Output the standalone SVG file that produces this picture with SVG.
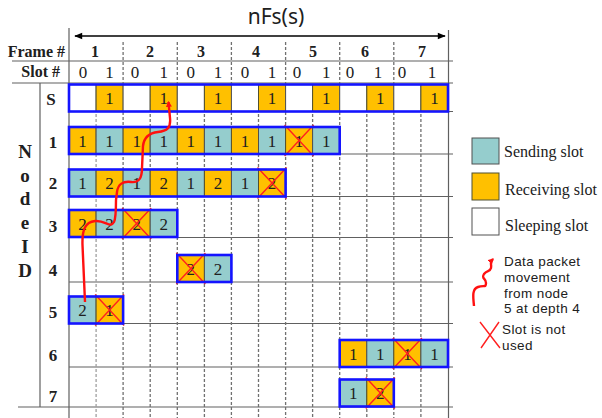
<svg xmlns="http://www.w3.org/2000/svg" width="602" height="418" viewBox="0 0 602 418">
<style>
.bg{fill:#ffffff}
.gl{stroke:#606060;stroke-width:1.2;fill:none}
.gd{stroke:#707070;stroke-width:1.3;stroke-dasharray:3 2;fill:none}
.w{fill:#ffffff;stroke:#505050;stroke-width:1}
.y{fill:#FFC000;stroke:#505030;stroke-width:1}
.t{fill:#95CDCD;stroke:#505050;stroke-width:1}
.box{fill:none;stroke:#1414FF;stroke-width:2.6}
.x{stroke:#FF2020;stroke-width:1.4;fill:none}
.ct{font-family:"Liberation Serif",serif;font-size:17px;fill:#202020;text-anchor:middle}
.hb{font-family:"Liberation Serif",serif;font-size:16px;font-weight:bold;fill:#202020;text-anchor:middle}
.he{font-family:"Liberation Serif",serif;font-size:16px;font-weight:bold;fill:#202020;text-anchor:end}
.hn{font-family:"Liberation Serif",serif;font-size:17px;fill:#202020;text-anchor:middle}
.lb{font-family:"Liberation Serif",serif;font-size:17px;font-weight:bold;fill:#202020;text-anchor:middle}
.nid{font-family:"Liberation Serif",serif;font-size:19px;font-weight:bold;fill:#202020;text-anchor:middle}
.lg{font-family:"Liberation Serif",serif;font-size:16px;fill:#202020}
.ls{font-family:"Liberation Sans","Noto Sans",sans-serif;font-size:13.5px;letter-spacing:0.4px;fill:#202020}
.rp{stroke:#FF1010;stroke-width:2.4;fill:none}
</style>
<defs>
<marker id="ah" viewBox="0 0 10 10" refX="8" refY="5" markerWidth="6" markerHeight="6" orient="auto" markerUnits="userSpaceOnUse">
<path d="M0,0 L10,5 L0,10 z" fill="#FF1010"/>
</marker>
<marker id="ab" viewBox="0 0 10 10" refX="9" refY="5" markerWidth="11" markerHeight="8" orient="auto-start-reverse" markerUnits="userSpaceOnUse">
<path d="M0,1 L10,5 L0,9 z" fill="#000000"/>
</marker>
</defs>
<rect class="bg" x="0" y="0" width="602" height="418"/>

<g id="title">
<text x="276" y="24" font-family="Noto Sans,Noto Sans CJK KR,sans-serif" font-size="21" fill="#202020" text-anchor="middle">nFs(s)</text>
<line x1="75" y1="36" x2="445" y2="36" stroke="#000" stroke-width="1.6" marker-start="url(#ab)" marker-end="url(#ab)"/>
</g>

<g id="grid">
<line class="gl" x1="69" y1="28" x2="69" y2="418"/>
<line class="gl" x1="448.5" y1="30" x2="448.5" y2="418" stroke="#909090"/>
<line class="gl" x1="40" y1="83" x2="40" y2="407"/>
<line class="gl" x1="12" y1="61" x2="453" y2="61"/>
<line class="gl" x1="12" y1="83" x2="453" y2="83"/>
<line class="gl" x1="69" y1="111.5" x2="453" y2="111.5"/>
<line class="gl" x1="69" y1="154" x2="453" y2="154"/>
<line class="gl" x1="69" y1="196.5" x2="453" y2="196.5"/>
<line class="gl" x1="69" y1="237.5" x2="453" y2="237.5"/>
<line class="gl" x1="69" y1="282" x2="453" y2="282"/>
<line class="gl" x1="69" y1="323.5" x2="453" y2="323.5"/>
<line class="gl" x1="69" y1="367" x2="453" y2="367"/>
<line class="gl" x1="18" y1="407" x2="453" y2="407"/>
<g>
<line class="gd" x1="123.1" y1="42" x2="123.1" y2="418"/>
<line class="gd" x1="177.3" y1="42" x2="177.3" y2="418"/>
<line class="gd" x1="231.4" y1="42" x2="231.4" y2="418"/>
<line class="gd" x1="285.6" y1="42" x2="285.6" y2="418"/>
<line class="gd" x1="339.7" y1="42" x2="339.7" y2="418"/>
<line class="gd" x1="393.8" y1="42" x2="393.8" y2="418"/>
<line class="gd" x1="96.1" y1="84" x2="96.1" y2="418" style="stroke:#a0a0a0"/>
<line class="gd" x1="150.2" y1="84" x2="150.2" y2="418"/>
<line class="gd" x1="204.4" y1="84" x2="204.4" y2="418"/>
<line class="gd" x1="258.5" y1="84" x2="258.5" y2="418"/>
<line class="gd" x1="312.6" y1="84" x2="312.6" y2="418"/>
<line class="gd" x1="366.8" y1="84" x2="366.8" y2="418"/>
<line class="gd" x1="420.9" y1="84" x2="420.9" y2="418"/>
</g>
</g>

<g id="header">
<text class="he" x="65" y="57">Frame #</text>
<text class="he" x="60" y="77">Slot #</text>
<text class="hb" x="95" y="57">1</text>
<text class="hb" x="150" y="57">2</text>
<text class="hb" x="201" y="57">3</text>
<text class="hb" x="256" y="57">4</text>
<text class="hb" x="313" y="57">5</text>
<text class="hb" x="365" y="57">6</text>
<text class="hb" x="422" y="57">7</text>
<text class="hn" x="83" y="78">0</text><text class="hn" x="109.6" y="78">1</text>
<text class="hn" x="135" y="78">0</text><text class="hn" x="163.7" y="78">1</text>
<text class="hn" x="190.8" y="78">0</text><text class="hn" x="217.9" y="78">1</text>
<text class="hn" x="245" y="78">0</text><text class="hn" x="272" y="78">1</text>
<text class="hn" x="297" y="78">0</text><text class="hn" x="326.2" y="78">1</text>
<text class="hn" x="350" y="78">0</text><text class="hn" x="378" y="78">1</text>
<text class="hn" x="402" y="78">0</text><text class="hn" x="432" y="78">1</text>
</g>

<g id="node-id-label">
<text class="nid" x="25" y="158">N</text>
<text class="nid" x="25" y="182">o</text>
<text class="nid" x="25" y="205">d</text>
<text class="nid" x="25" y="229">e</text>
<text class="nid" x="25" y="253">I</text>
<text class="nid" x="25" y="277">D</text>
</g>

<g id="row-S">
<text class="lb" x="51" y="105">S</text>
<rect class="w" x="69" y="84.5" width="27.1" height="27"/>
<rect class="y" x="96.1" y="84.5" width="27.1" height="27"/>
<rect class="w" x="123.1" y="84.5" width="27.1" height="27"/>
<rect class="y" x="150.2" y="84.5" width="27.1" height="27"/>
<rect class="w" x="177.3" y="84.5" width="27.1" height="27"/>
<rect class="y" x="204.4" y="84.5" width="27.1" height="27"/>
<rect class="w" x="231.4" y="84.5" width="27.1" height="27"/>
<rect class="y" x="258.5" y="84.5" width="27.1" height="27"/>
<rect class="w" x="285.6" y="84.5" width="27.1" height="27"/>
<rect class="y" x="312.6" y="84.5" width="27.1" height="27"/>
<rect class="w" x="339.7" y="84.5" width="27.1" height="27"/>
<rect class="y" x="366.8" y="84.5" width="27.1" height="27"/>
<rect class="w" x="393.8" y="84.5" width="27.1" height="27"/>
<rect class="y" x="420.9" y="84.5" width="27.1" height="27"/>
<text class="ct" x="109.6" y="104">1</text>
<text class="ct" x="163.7" y="104">1</text>
<text class="ct" x="217.9" y="104">1</text>
<text class="ct" x="272" y="104">1</text>
<text class="ct" x="326.2" y="104">1</text>
<text class="ct" x="380.3" y="104">1</text>
<text class="ct" x="434.4" y="104">1</text>
<rect class="box" x="69" y="84.5" width="379" height="27"/>
</g>

<g id="row-1">
<text class="lb" x="53" y="148">1</text>
<rect class="y" x="69" y="127" width="27.1" height="27"/>
<rect class="t" x="96.1" y="127" width="27.1" height="27"/>
<rect class="y" x="123.1" y="127" width="27.1" height="27"/>
<rect class="t" x="150.2" y="127" width="27.1" height="27"/>
<rect class="y" x="177.3" y="127" width="27.1" height="27"/>
<rect class="t" x="204.4" y="127" width="27.1" height="27"/>
<rect class="y" x="231.4" y="127" width="27.1" height="27"/>
<rect class="t" x="258.5" y="127" width="27.1" height="27"/>
<rect class="y" x="285.6" y="127" width="27.1" height="27"/>
<rect class="t" x="312.6" y="127" width="27.1" height="27"/>
<text class="ct" x="82.5" y="146.5">1</text>
<text class="ct" x="109.6" y="146.5">1</text>
<text class="ct" x="136.7" y="146.5">1</text>
<text class="ct" x="163.7" y="146.5">1</text>
<text class="ct" x="190.8" y="146.5">1</text>
<text class="ct" x="217.9" y="146.5">1</text>
<text class="ct" x="245" y="146.5">1</text>
<text class="ct" x="272" y="146.5">1</text>
<text class="ct" x="299.1" y="146.5">1</text>
<text class="ct" x="326.2" y="146.5">1</text>
<path class="x" d="M284.6,125 L313.6,156 M313.6,125 L284.6,156"/>
<rect class="box" x="69" y="127" width="270.7" height="27"/>
</g>

<g id="row-2">
<text class="lb" x="53" y="189">2</text>
<rect class="t" x="69" y="169.5" width="27.1" height="27"/>
<rect class="y" x="96.1" y="169.5" width="27.1" height="27"/>
<rect class="t" x="123.1" y="169.5" width="27.1" height="27"/>
<rect class="y" x="150.2" y="169.5" width="27.1" height="27"/>
<rect class="t" x="177.3" y="169.5" width="27.1" height="27"/>
<rect class="y" x="204.4" y="169.5" width="27.1" height="27"/>
<rect class="t" x="231.4" y="169.5" width="27.1" height="27"/>
<rect class="y" x="258.5" y="169.5" width="27.1" height="27"/>
<text class="ct" x="82.5" y="189">1</text>
<text class="ct" x="109.6" y="189">2</text>
<text class="ct" x="136.7" y="189">1</text>
<text class="ct" x="163.7" y="189">2</text>
<text class="ct" x="190.8" y="189">1</text>
<text class="ct" x="217.9" y="189">2</text>
<text class="ct" x="245" y="189">1</text>
<text class="ct" x="272" y="189">2</text>
<path class="x" d="M257.5,167.5 L286.6,198.5 M286.6,167.5 L257.5,198.5"/>
<rect class="box" x="69" y="169.5" width="216.6" height="27"/>
</g>

<g id="row-3">
<text class="lb" x="53" y="232">3</text>
<rect class="y" x="69" y="210" width="27.1" height="27"/>
<rect class="t" x="96.1" y="210" width="27.1" height="27"/>
<rect class="y" x="123.1" y="210" width="27.1" height="27"/>
<rect class="t" x="150.2" y="210" width="27.1" height="27"/>
<text class="ct" x="82.5" y="229.5">2</text>
<text class="ct" x="109.6" y="229.5">2</text>
<text class="ct" x="136.7" y="229.5">2</text>
<text class="ct" x="163.7" y="229.5">2</text>
<path class="x" d="M122.1,208 L151.2,239 M151.2,208 L122.1,239"/>
<rect class="box" x="69" y="210" width="108.3" height="27"/>
</g>

<g id="row-4">
<text class="lb" x="53" y="276">4</text>
<rect class="y" x="177.3" y="255" width="27.1" height="27"/>
<rect class="t" x="204.4" y="255" width="27.1" height="27"/>
<text class="ct" x="190.8" y="274.5">2</text>
<text class="ct" x="217.9" y="274.5">2</text>
<path class="x" d="M176.3,253 L205.4,284 M205.4,253 L176.3,284"/>
<rect class="box" x="177.3" y="255" width="54.1" height="27"/>
</g>

<g id="row-5">
<text class="lb" x="53" y="318">5</text>
<rect class="t" x="69" y="296.5" width="27.1" height="27"/>
<rect class="y" x="96.1" y="296.5" width="27.1" height="27"/>
<text class="ct" x="82.5" y="316">2</text>
<text class="ct" x="109.6" y="316">1</text>
<path class="x" d="M95.1,294.5 L124.1,325.5 M124.1,294.5 L95.1,325.5"/>
<rect class="box" x="69" y="296.5" width="54.1" height="27"/>
</g>

<g id="row-6">
<text class="lb" x="53" y="361">6</text>
<rect class="y" x="339.7" y="340" width="27.1" height="27"/>
<rect class="t" x="366.8" y="340" width="27.1" height="27"/>
<rect class="y" x="393.8" y="340" width="27.1" height="27"/>
<rect class="t" x="420.9" y="340" width="27.1" height="27"/>
<text class="ct" x="353.2" y="359.5">1</text>
<text class="ct" x="380.3" y="359.5">1</text>
<text class="ct" x="407.4" y="359.5">1</text>
<text class="ct" x="434.4" y="359.5">1</text>
<path class="x" d="M392.8,338 L421.9,369 M421.9,338 L392.8,369"/>
<rect class="box" x="339.7" y="340" width="108.3" height="27"/>
</g>

<g id="row-7">
<text class="lb" x="53" y="402">7</text>
<rect class="t" x="339.7" y="379.5" width="27.1" height="27"/>
<rect class="y" x="366.8" y="379.5" width="27.1" height="27"/>
<text class="ct" x="353.2" y="399">1</text>
<text class="ct" x="380.3" y="399">2</text>
<path class="x" d="M365.8,377.5 L394.9,408.5 M394.9,377.5 L365.8,408.5"/>
<rect class="box" x="339.7" y="379.5" width="54.1" height="27"/>
</g>

<g id="connectors">
<path class="rp" marker-end="url(#ah)" d="M85,302 L82.5,245 C82,230 85,222 95,221 C106,220 110,229 114,222 C116,218 116,210 116,200 L117,192 C118,184 123,181 131,182 C139,183 142,178 142,168 L143,146 C144,137 149,133 158,132 C167,131 171,128 170,118 L168.5,102"/>
</g>

<g id="legend">
<rect class="t" x="472" y="138" width="27" height="26"/>
<text class="lg" x="504" y="157">Sending slot</text>
<rect class="y" x="472" y="173" width="27" height="27"/>
<text class="lg" x="505" y="195">Receiving slot</text>
<rect class="w" x="472" y="208" width="27" height="27"/>
<text class="lg" x="505" y="231">Sleeping slot</text>
<path class="rp" marker-end="url(#ah)" d="M474,306 C473,296 472,289 478,287 C484,285 486,288 486,283 C486,278 481,279 484,274 C487,270 490,272 491,268 C492,264 489,263 493,259"/>
<text class="ls" x="504" y="266">Data packet</text>
<text class="ls" x="504" y="282">movement</text>
<text class="ls" x="504" y="297.5">from node</text>
<text class="ls" x="504" y="313">5 at depth 4</text>
<path class="x" d="M480,322 L500,348 M499,322 L481,348"/>
<text class="ls" x="502" y="334">Slot is not</text>
<text class="ls" x="502" y="350">used</text>
</g>
</svg>
